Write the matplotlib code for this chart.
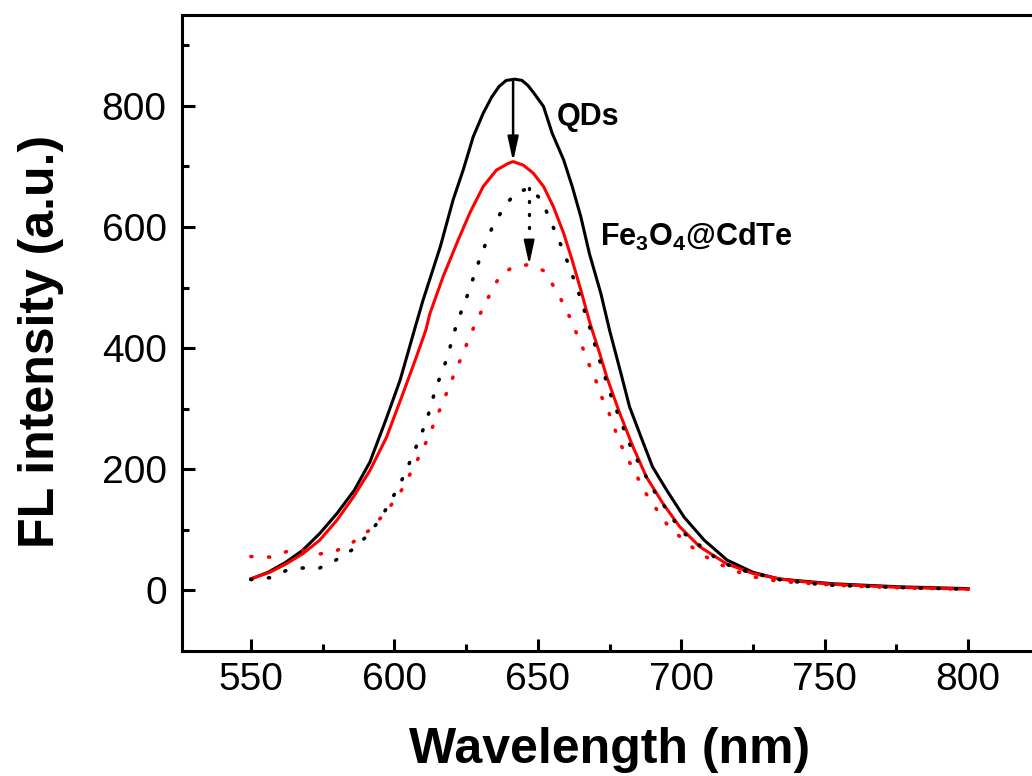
import numpy as np
import matplotlib
matplotlib.use("Agg")
import matplotlib.pyplot as plt

# =========================
# DATA
# =========================

# QDs, solid black
qd_wl = [550, 556, 562, 568, 574, 580, 586, 591.5, 597, 602, 604, 607, 610, 616,
         620.5, 624, 627.5, 631, 634, 636.5, 639, 642, 644.5, 646.5, 648.5, 652,
         655, 659, 662, 665, 668, 672, 675, 679, 682, 686, 690, 695, 701, 708,
         716, 725, 734, 741, 753, 776, 800]
qd_int = [19, 30, 46, 66, 94, 127, 165, 212, 281, 347, 380, 430, 479, 567,
          645, 694, 749, 788, 815, 832, 842, 844, 842, 834, 822, 799,
          755, 711, 667, 617, 556, 490, 430, 358, 303, 253, 204, 165, 121, 83,
          50, 30, 19, 16, 11, 6, 3]

# QDs + Fe3O4, solid red
qd_fe_wl = [550, 556.6, 562.4, 568.2, 574, 580, 585.7, 591.5, 597.3, 603, 607.5,
            611, 612.4, 617, 622.3, 626.3, 631, 635.6, 639.7, 641.4, 645, 648.4,
            652, 655.4, 659, 662, 665, 668.2, 671.6, 674, 678.6, 683.2, 687.9,
            693.7, 699.5, 706.5, 715.8, 725, 734.4, 741, 753, 776, 800]
qd_fe_int = [19, 30, 44, 61, 83, 116, 154, 198, 253, 325, 383,
             430, 457, 518, 579, 623, 667, 694, 705, 708, 702, 689,
             667, 634, 590, 545, 496, 441, 391, 353, 292, 237, 187,
             143, 105, 72, 44, 28, 19, 15, 10, 5, 2]

# Fe3O4@CdTe, dotted black
comp_wl = [550, 556.6, 562.4, 568, 574, 579.6, 585.3, 590.5, 595, 598.4, 601.6,
           604.3, 606.6, 609, 611.3, 613, 614.5, 616.8, 618.8, 620.3, 622, 624.2,
           626.3, 628.2, 630.2, 632.4, 634.5, 638, 642, 647, 651.3, 654, 659,
           664, 668, 671, 676, 683, 690, 700, 713, 719, 735, 750, 775, 800]
comp_int = [18, 21, 33, 37, 37, 50, 67, 90, 117, 145, 172,
            199, 226, 253, 281, 309, 335, 362, 390, 417, 444, 471,
            498, 526, 553, 579, 604, 630, 656, 664, 645, 615, 560,
            495, 436, 388, 315, 230, 168, 98, 50, 36, 17, 9, 5, 2]

# Fe3O4@CdTe + Fe3O4, dotted red
comp_fe_wl = [550, 556.6, 562.4, 568, 573.8, 579.6, 585.4, 590.9, 595.3, 599.4,
              603.3, 606.1, 609.1, 611.8, 614.2, 616.6, 618.9, 621.2, 623.7, 626,
              628.4, 631.2, 634, 637, 641.4, 647, 652, 654.8, 657.7, 660.6, 663,
              665.3, 667.6, 670, 672, 674.6, 676.7, 678.9, 681.6, 684.4, 687.3,
              690.8, 694.9, 699.9, 705.4, 711.2, 717, 722.8, 728.6, 734.4, 740,
              760, 780, 800]
comp_fe_int = [56, 55, 64, 66, 60, 65, 79, 98, 120, 144,
               171, 198, 225, 252, 280, 307, 334, 361, 388, 416,
               442, 469, 495, 521, 534, 538, 528, 508, 484, 457, 430,
               405, 376, 350, 322, 296, 268, 241, 215, 190, 163,
               138, 110, 87, 65, 48, 36, 25, 19, 15, 13,
               7, 4, 2]

x_ticks = [550, 600, 650, 700, 750, 800]
y_ticks = [0, 200, 400, 600, 800]

# =========================
# STYLE
# =========================

plt.rcParams["font.family"] = "Liberation Sans"
plt.rcParams["mathtext.fontset"] = "custom"
plt.rcParams["mathtext.rm"] = "Liberation Sans:bold"
plt.rcParams["mathtext.default"] = "rm"

fig = plt.figure(figsize=(10.32, 7.76), dpi=100)
ax = fig.add_axes([182 / 1032, 125 / 776, 855 / 1032, 636 / 776])

dot_style = (0, (0.3, 4.6))

ax.plot(qd_wl, qd_int, color="black", lw=2.2)
ax.plot(qd_fe_wl, qd_fe_int, color="#ff0000", lw=2.2)
ax.plot(comp_wl, comp_int, color="black", lw=2.6, linestyle=dot_style,
        dash_capstyle="round")
ax.plot(comp_fe_wl, comp_fe_int, color="#ff0000", lw=2.6, linestyle=dot_style,
        dash_capstyle="round")

# arrows from peak to peak
head = "-|>,head_length=1.45,head_width=0.32"
x1 = qd_fe_wl[int(np.argmax(qd_fe_int))]
ax.annotate("", xy=(x1, max(qd_fe_int)), xytext=(x1, max(qd_int)),
            arrowprops=dict(arrowstyle=head, color="black", lw=1.8,
                            mutation_scale=10, shrinkA=0, shrinkB=0))

x2 = comp_wl[int(np.argmax(comp_int))]
y_top, y_tip = max(comp_int), max(comp_fe_int)
y_head = y_tip + (y_top - y_tip) * 0.27
ax.plot([x2, x2], [y_top, y_head], color="black", lw=2.4,
        linestyle=(0, (0.3, 3.6)), dash_capstyle="round")
ax.annotate("", xy=(x2, y_tip), xytext=(x2, y_head),
            arrowprops=dict(arrowstyle=head, color="black", lw=1.5,
                            mutation_scale=10, shrinkA=0, shrinkB=0))

ax.text(656.7, 782, "QDs", fontsize=22, fontweight="bold", va="center")
ax.text(671.6, 583, r"$\mathrm{Fe_3O_4@CdTe}$", fontsize=22, va="center")

# =========================
# AXES
# =========================

ax.set_xlim(526, 824)
ax.set_ylim(-100, 950)
ax.set_xticks(x_ticks)
ax.set_yticks(y_ticks)
ax.set_xticks([575, 625, 675, 725, 775], minor=True)
ax.set_yticks([-100, 100, 300, 500, 700, 900], minor=True)

for s in ax.spines.values():
    s.set_linewidth(2.2)

ax.tick_params(which="both", direction="in", width=2.2, top=False, right=False)
ax.tick_params(which="major", length=9, labelsize=28)
ax.tick_params(which="minor", length=5)
ax.tick_params(axis="x", which="major", pad=8)
ax.tick_params(axis="y", which="major", pad=11)

ax.set_xlabel("Wavelength (nm)", fontsize=36, fontweight="bold", va="center")
ax.xaxis.set_label_coords(0.5, -0.156)
ax.set_ylabel("FL intensity (a.u.)", fontsize=36, fontweight="bold", va="center")
ax.yaxis.set_label_coords(-0.165, 0.486)

fig.savefig("out.png", dpi=100)
